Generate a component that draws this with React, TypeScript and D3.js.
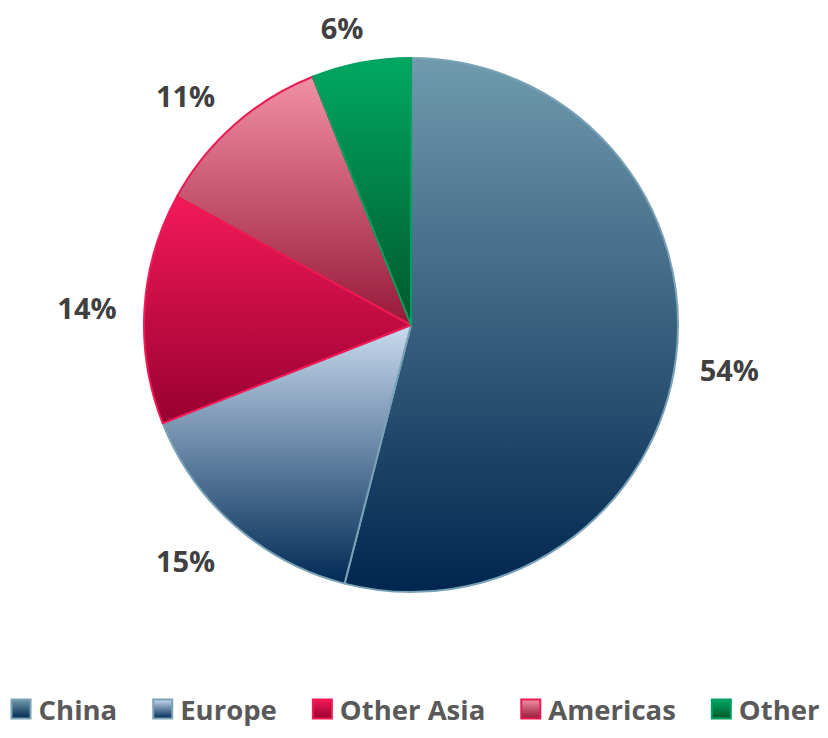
import React, { useEffect, useRef } from "react";
import * as d3 from "d3";

const categories = ["China", "Europe", "Other Asia", "Americas", "Other"];
const values = [54, 15, 14, 11, 6];
const labels = ["54%", "15%", "14%", "11%", "6%"];
const gradTop = ["#6f9bad", "#c9dbef", "#f3195a", "#f190a6", "#00a862"];
const gradBottom = ["#00264f", "#002a55", "#980030", "#97183a", "#00582a"];
const strokes = ["#7aa2b6", "#7aa2b6", "#f01a55", "#ea1a52", "#00a060"];

const W = 828;
const H = 738;

export default function App() {
  const ref = useRef<SVGSVGElement>(null);

  useEffect(() => {
    const svg = d3.select(ref.current);
    svg.selectAll("*").remove();
    const cx = 411, cy = 325, R = 267;
    const defs = svg.append("defs");
    categories.forEach((c, i) => {
      const g = defs.append("linearGradient").attr("id", "g" + i)
        .attr("x1", 0).attr("y1", 0).attr("x2", 0).attr("y2", 1);
      g.append("stop").attr("offset", "0%").attr("stop-color", gradTop[i]);
      g.append("stop").attr("offset", "100%").attr("stop-color", gradBottom[i]);
    });

    const pie = d3.pie<number>().sort(null).value(d => d);
    const arcs = pie(values);
    const arc = d3.arc<d3.PieArcDatum<number>>().innerRadius(0).outerRadius(R);
    const g = svg.append("g").attr("transform", `translate(${cx},${cy})`);
    g.selectAll("path.slice").data(arcs).join("path")
      .attr("class", "slice")
      .attr("d", arc as any)
      .attr("fill", (_d, i) => `url(#g${i})`)
      .attr("stroke", (_d, i) => strokes[i])
      .attr("stroke-width", 2)
      .attr("stroke-linejoin", "round");

    const font = "'Open Sans', 'Segoe UI', sans-serif";
    const clamp = (v: number) => Math.max(-1, Math.min(1, v));
    // labels
    arcs.forEach((a, i) => {
      const t = g.append("text").text(labels[i])
        .attr("font-family", font).attr("font-weight", 700)
        .attr("font-size", 29).attr("fill", "#404040")
        .attr("text-anchor", "middle").attr("dominant-baseline", "central");
      const w = (t.node() as SVGTextElement).getComputedTextLength();
      const hb = 13;
      const m = (a.startAngle + a.endAngle) / 2;
      const dx = Math.sin(m), dy = -Math.cos(m);
      const D = R + 26;
      const x = D * dx + (w / 2) * clamp(dx * 3) - 2;
      const y = D * dy + hb * clamp(dy * 3) + 3;
      t.attr("x", x).attr("y", y);
    });

    // legend
    const lg = svg.append("g");
    let x = 0;
    const sq = 21, gapT = 7, gapItem = 35;
    categories.forEach((c, i) => {
      const item = lg.append("g").attr("transform", `translate(${x},0)`);
      item.append("rect").attr("x", 1).attr("y", -sq / 2 + 1).attr("width", sq - 2).attr("height", sq - 2)
        .attr("fill", `url(#g${i})`).attr("stroke", strokes[i]).attr("stroke-width", 2);
      const t = item.append("text").text(c).attr("x", sq + gapT).attr("y", 0)
        .attr("font-family", font).attr("font-weight", 700).attr("font-size", 27.5)
        .attr("fill", "#595959").attr("dominant-baseline", "central");
      const w = (t.node() as SVGTextElement).getComputedTextLength();
      x += sq + gapT + w + gapItem;
    });
    const total = x - gapItem;
    lg.attr("transform", `translate(${(W - total) / 2 + 1},${709})`);
  }, []);

  return (
    <svg ref={ref} width={W} height={H} style={{ position: "absolute", left: 0, top: 0, background: "#fff" }} />
  );
}
